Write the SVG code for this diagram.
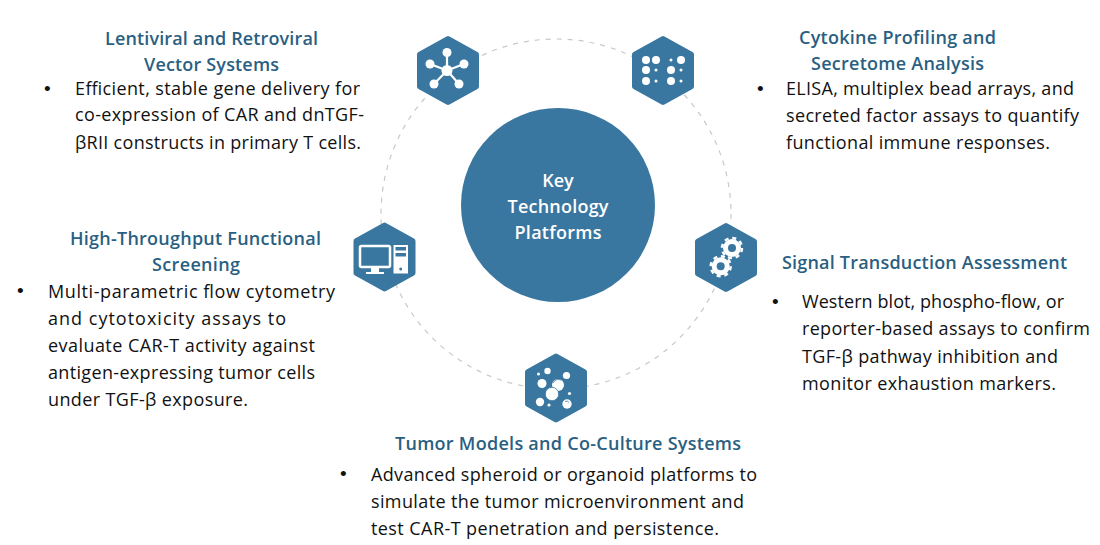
<svg xmlns="http://www.w3.org/2000/svg" width="1100" height="545" viewBox="0 0 1100 545">
<style>
text{font-family:"Open Sans","Noto Sans","Liberation Sans",sans-serif}
.t{font-size:18px;font-weight:600;fill:#2a5f82}
.b{font-size:18px;fill:#111}
.d{font-size:19px;fill:#111;font-family:"Liberation Sans",sans-serif}
.c{font-size:18px;font-weight:600;fill:#fff;text-anchor:middle}
.hex{fill:#3a77a0;stroke:#3a77a0;stroke-width:6;stroke-linejoin:round}
.w{fill:#fff}
.l{stroke:#fff;stroke-width:2.2;fill:none}
.a{stroke:#3a77a0;stroke-width:.8;fill:none}
</style>
<defs><polygon id="h" class="hex" points="0,-31.5 28,-16 28,16 0,31.5 -28,16 -28,-16"/></defs>
<rect width="1100" height="545" fill="#fff"/>
<g id="connectors"><circle cx="556" cy="214" r="175" fill="none" stroke="#c8c8c8" stroke-width="1.2" stroke-dasharray="5 6"/></g>
<g id="center"><circle cx="558" cy="205" r="97" fill="#3a77a0"/>
<text class="c" x="558" y="187">Key</text><text class="c" x="558" y="213" textLength="101">Technology</text><text class="c" x="558" y="239" textLength="87">Platforms</text></g>
<g id="node-lentiviral"><use href="#h" x="448" y="70.5"/>
<path class="l" d="M447 70.5V53M447 70.5L430 64M447 70.5L434 84M447 70.5L459 84M447 70.500L464 64"/>
<circle class="w" cx="447" cy="70.5" r="5.5"/><circle class="w" cx="447" cy="52.5" r="4.5"/><circle class="w" cx="430" cy="64" r="4.5"/><circle class="w" cx="464" cy="64" r="4.5"/><circle class="w" cx="434" cy="84" r="4.5"/><circle class="w" cx="459" cy="84" r="4.5"/>
<text class="t" x="105" y="45" textLength="213">Lentiviral and Retroviral</text><text class="t" x="144" y="71" textLength="135">Vector Systems</text>
<text class="d" x="44" y="95">•</text><text class="b" x="75" y="95" textLength="285">Efficient, stable gene delivery for</text><text class="b" x="75" y="121" textLength="289">co-expression of CAR and dnTGF-</text><text class="b" x="75" y="149" textLength="286">βRII constructs in primary T cells.</text></g>
<g id="node-cytokine"><use href="#h" x="663" y="70.5"/>
<circle class="w" cx="646" cy="60" r="4"/><circle class="w" cx="656" cy="60" r="4"/><circle class="w" cx="671" cy="60" r="1.5"/><circle class="w" cx="681" cy="60" r="4"/>
<circle class="w" cx="646" cy="70" r="4"/><circle class="w" cx="656" cy="70" r="1.5"/><circle class="w" cx="671" cy="70" r="4"/><circle class="w" cx="681" cy="70" r="1.5"/>
<circle class="w" cx="646" cy="81" r="4"/><circle class="w" cx="656" cy="81" r="1.5"/><circle class="w" cx="671" cy="81" r="4"/><circle class="w" cx="681" cy="81" r="1.5"/>
<text class="t" x="799" y="44" textLength="197">Cytokine Profiling and</text><text class="t" x="811" y="70" textLength="173">Secretome Analysis</text>
<text class="d" x="757" y="95">•</text><text class="b" x="786" y="95" textLength="288">ELISA, multiplex bead arrays, and</text><text class="b" x="786" y="122" textLength="293">secreted factor assays to quantify</text><text class="b" x="786" y="149" textLength="264">functional immune responses.</text></g>
<g id="node-screening"><use href="#h" x="384.5" y="257"/>
<rect x="360" y="246" width="30" height="21" rx="1.5" fill="none" stroke="#fff" stroke-width="2.5"/><path class="w" d="M371 268h8v4h5v2h-18v-2h5z"/>
<path class="w" fill-rule="evenodd" d="M393.500 245h14.500v28.500h-14.500zM395.500 247v3.500h10.500v-3.500zM395.500 253v3.500h10.500v-3.500z"/><circle cx="400.7" cy="269" r="1.5" fill="#3a77a0"/>
<text class="t" x="70" y="245" textLength="251">High-Throughput Functional</text><text class="t" x="152" y="271" textLength="88">Screening</text>
<text class="d" x="17" y="297">•</text><text class="b" x="48" y="298" textLength="287">Multi-parametric flow cytometry</text><text class="b" x="48" y="325" textLength="238">and cytotoxicity assays to</text><text class="b" x="48" y="352" textLength="267">evaluate CAR-T activity against</text><text class="b" x="48" y="379" textLength="267">antigen-expressing tumor cells</text><text class="b" x="48" y="406" textLength="200">under TGF-β exposure.</text></g>
<g id="node-signal"><use href="#h" x="726" y="257.5"/>
<g fill="none" stroke="#fff"><circle cx="732" cy="248" r="6.500" stroke-width="5"/><circle cx="732" cy="248" r="10" stroke-width="2.500" stroke-dasharray="4 3.850"/><circle cx="720.700" cy="266.300" r="6.500" stroke-width="5"/><circle cx="720.700" cy="266.300" r="10" stroke-width="2.500" stroke-dasharray="4 3.850"/></g>
<text class="t" x="782" y="269" textLength="285">Signal Transduction Assessment</text>
<text class="d" x="772" y="308">•</text><text class="b" x="802" y="308" textLength="262">Western blot, phospho-flow, or</text><text class="b" x="802" y="335" textLength="288">reporter-based assays to confirm</text><text class="b" x="802" y="363" textLength="256">TGF-β pathway inhibition and</text><text class="b" x="802" y="390" textLength="254">monitor exhaustion markers.</text></g>
<g id="node-tumor"><use href="#h" x="556" y="388"/>
<circle class="w" cx="538.500" cy="374" r="1.500"/><circle class="w" cx="547.500" cy="371" r="3.200"/><circle class="w" cx="566.500" cy="375.500" r="3.600"/><circle class="w" cx="542" cy="383.500" r="4.500"/><circle class="w" cx="558" cy="385" r="6"/><path class="a" d="M553 383a6 6 0 0 1 8-3"/><circle class="w" cx="552" cy="394" r="6.700" stroke="#3a77a0" stroke-width=".8"/><circle class="w" cx="569.500" cy="393.500" r="1.600"/><circle class="w" cx="540" cy="402" r="4.200"/><circle class="w" cx="549" cy="405" r="1.600"/><circle class="w" cx="567" cy="404" r="4.700"/><path class="a" d="M565 401.500a3 3 0 0 1 4 1"/>
<text class="t" x="395" y="450" textLength="346">Tumor Models and Co-Culture Systems</text>
<text class="d" x="340" y="480">•</text><text class="b" x="371" y="481" textLength="386">Advanced spheroid or organoid platforms to</text><text class="b" x="371" y="508" textLength="373">simulate the tumor microenvironment and</text><text class="b" x="371" y="535" textLength="348">test CAR-T penetration and persistence.</text></g>
</svg>
